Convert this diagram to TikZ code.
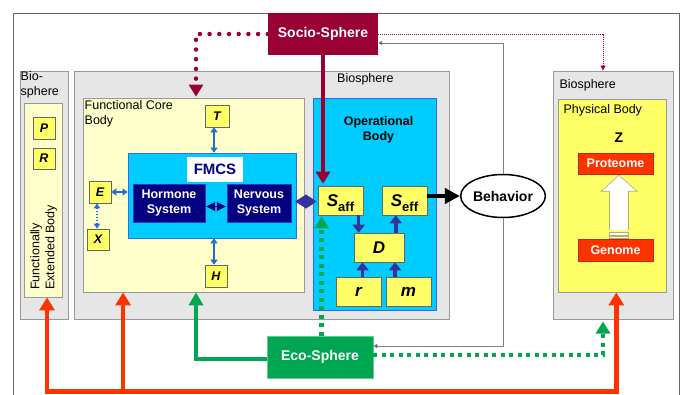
\documentclass[tikz,border=0pt]{standalone}
\usepackage{fontspec}
\setmainfont{Liberation Sans}
\usetikzlibrary{arrows.meta,calc,shapes.geometric}

\definecolor{bioGray}{HTML}{E6E6E6}
\definecolor{frameGray}{HTML}{999999}
\definecolor{outerGray}{HTML}{666666}
\definecolor{paleYel}{HTML}{FFFFCC}
\definecolor{boxYel}{HTML}{FFFF66}
\definecolor{stripeGray}{HTML}{B0B070}
\definecolor{opCyan}{HTML}{00CCFF}
\definecolor{opBlue}{HTML}{3366FF}
\definecolor{navyBox}{HTML}{000080}
\definecolor{linkBlue}{HTML}{1F6FD0}
\definecolor{opArrow}{HTML}{333399}
\definecolor{socioRed}{HTML}{990033}
\definecolor{ecoGreen}{HTML}{00A651}
\definecolor{genRed}{HTML}{FF3300}

\newcommand{\fsz}[2]{\fontsize{#1}{#2}\selectfont}

\tikzset{
  sphere/.style={draw=frameGray, fill=bioGray, line width=1pt, inner sep=0pt},
  paleBox/.style={draw=frameGray, fill=paleYel, line width=0.8pt, inner sep=0pt},
  cyanBox/.style={draw=opBlue, fill=opCyan, line width=0.8pt, inner sep=0pt},
  varBox/.style={draw=outerGray, fill=boxYel, line width=0.6pt, inner sep=0pt,
    font=\fsz{12.5}{15}\bfseries\itshape},
  bigVar/.style={varBox, font=\fsz{17}{17}\bfseries\itshape},
  sysBox/.style={draw=opBlue!60!navyBox, fill=navyBox, text=white, inner sep=0pt,
    align=center, font=\fsz{12.5}{15}\bfseries},
  geneBox/.style={draw=genRed!75!black, fill=genRed, text=white, inner sep=0pt,
    font=\fsz{12.5}{15}\bfseries},
  plainText/.style={inner sep=1pt, font=\fsz{12.5}{15}, align=left},
  socioLink/.style={socioRed, line width=4.5pt, -{Triangle[length=12pt,width=14pt]}},
  socioDots/.style={socioRed, line width=4.5pt, line cap=round,
    dash pattern=on 0pt off 9.7pt, -{Triangle[length=12pt,width=14pt]}},
  socioFine/.style={socioRed, line width=1pt, dash pattern=on 1pt off 1pt,
    -{Triangle[length=5pt,width=5pt]}},
  grayLink/.style={gray, line width=0.8pt, -{Triangle[length=4pt,width=4pt,fill=black]}},
  behLink/.style={black, line width=4.5pt, -{Triangle[length=15pt,width=15pt]}},
  diamondLink/.style={opArrow, line width=1pt,
    {Triangle[length=11pt,width=14pt]}-{Triangle[length=11pt,width=14pt]}},
  sysLink/.style={navyBox, line width=1pt,
    {Triangle[length=9pt,width=9pt]}-{Triangle[length=9pt,width=9pt]}},
  blueLink/.style={linkBlue, line width=2pt,
    {Triangle[length=5pt,width=7pt]}-{Triangle[length=5pt,width=7pt]}},
  blueDots/.style={linkBlue, line width=1.5pt, dash pattern=on 1.5pt off 1.5pt,
    {Triangle[length=5pt,width=6pt]}-{Triangle[length=5pt,width=6pt]}},
  opLink/.style={opArrow, line width=3.5pt, -{Triangle[length=8pt,width=12pt]}},
  ecoLink/.style={ecoGreen, line width=4.5pt, -{Triangle[length=13pt,width=14pt]}},
  ecoDots/.style={ecoGreen, line width=4.5pt, dash pattern=on 4pt off 4.5pt,
    -{Triangle[length=12pt,width=14pt]}},
  redLink/.style={genRed, line width=4.5pt},
  redTip/.tip={Triangle[length=13pt,width=15pt]},
}

\begin{document}
\begin{tikzpicture}[x=1pt,y=-1pt]
\useasboundingbox (0,0) rectangle (685,394);
\fill[white] (0,0) rectangle (685,394);

% outer frame, open at the bottom
\draw[outerGray, line width=0.8pt] (13,400) -- (13,13) -- (679,13) -- (679,400);

% left biosphere: functionally extended body
\node[sphere, minimum width=48pt, minimum height=248pt] (lbio) at (44,195) {};
\node[plainText, anchor=north west] at (lbio.north west) {Bio-\\sphere};
\node[paleBox, minimum width=38pt, minimum height=194pt] (feb) at (43,200) {};
\node[varBox, minimum width=22pt, minimum height=22pt] (pv) at (44,128) {P};
\node[varBox, minimum width=22pt, minimum height=21pt] (rv) at (44,158.5) {R};
\node[plainText, rotate=90, anchor=north west] at (29,291) {Functionally\\Extended Body};

% middle biosphere
\node[sphere, minimum width=375pt, minimum height=248pt] (mbio) at (261.5,195) {};
\node[plainText, anchor=north west] at (336,72.5) {Biosphere};

% functional core body
\node[paleBox, minimum width=221pt, minimum height=194pt] (fcb) at (193.5,195) {};
\node[plainText, anchor=north west] at (83.5,99.5) {Functional Core\\Body};
\node[varBox, minimum width=24pt, minimum height=22pt] (t) at (217,116) {T};
\node[cyanBox, minimum width=168pt, minimum height=85pt] (fmcs) at (212,195.5) {};
\node[fill=white, inner sep=0pt, minimum width=56pt, minimum height=25pt,
  text=navyBox, font=\fsz{15}{15}\bfseries] (fmcslab) at (215,169.5) {FMCS};
\node[sysBox, minimum width=72pt, minimum height=38pt] (horm) at (169,203) {Hormone\\System};
\node[sysBox, minimum width=64pt, minimum height=38pt] (nerv) at (259,203) {Nervous\\System};
\node[varBox, minimum width=22pt, minimum height=22pt] (e) at (100,192) {E};
\node[varBox, minimum width=22pt, minimum height=21pt] (x) at (98,239.5) {X};
\node[varBox, minimum width=22pt, minimum height=22pt] (h) at (216,276) {H};

% operational body
\node[cyanBox, minimum width=123pt, minimum height=212pt] (ob) at (374.5,204) {};
\node[inner sep=0pt, align=center, font=\fsz{12.5}{15}\bfseries] at (378.5,130) {Operational\\Body};
\node[varBox, minimum width=45pt, minimum height=29pt,
  label={[inner sep=0pt, yshift=-3pt]center:{\fsz{17}{17}\bfseries\itshape S\fsz{13}{13}\upshape\raisebox{-5pt}{aff}}}]
  (saff) at (340.5,200.5) {};
\node[varBox, minimum width=45pt, minimum height=29pt,
  label={[inner sep=0pt, yshift=-3pt]center:{\fsz{17}{17}\bfseries\itshape S\fsz{13}{13}\upshape\raisebox{-5pt}{eff}}}]
  (seff) at (404.5,200.5) {};
\node[bigVar, minimum width=50pt, minimum height=29pt] (d) at (379,247.5) {D};
\node[bigVar, minimum width=45pt, minimum height=29pt] (r) at (358.5,291.5) {r};
\node[bigVar, minimum width=45pt, minimum height=29pt] (m) at (408.5,291.5) {m};

% behaviour, socio- and eco-sphere
\node[draw, ellipse, line width=1.5pt, fill=white, inner sep=0pt,
  minimum width=73pt, minimum height=43pt, font=\fsz{14}{14}\bfseries] (beh) at (503,196) {Behavior};
\node[fill=socioRed, inner sep=0pt, minimum width=110pt, minimum height=42pt,
  text=white, font=\fsz{14}{14}\bfseries] (socio) at (323,34) {Socio-Sphere};
\node[fill=ecoGreen, draw=ecoGreen!60!white, line width=0.6pt, inner sep=0pt,
  minimum width=106pt, minimum height=42pt,
  text=white, font=\fsz{14}{14}\bfseries] (eco) at (320,357) {Eco-Sphere};

% right biosphere: physical body
\node[sphere, minimum width=120pt, minimum height=248pt] (rbio) at (613,195) {};
\node[plainText, anchor=north west] at (558.3,78.3) {Biosphere};
\node[draw=frameGray, fill=boxYel, line width=0.8pt, inner sep=0pt,
  minimum width=108pt, minimum height=193pt] (pbody) at (612,195.5) {};
\node[plainText, anchor=north west] at (562.3,103.3) {Physical Body};
\node[inner sep=0pt, font=\fsz{14}{14}\bfseries] (z) at (619,138) {Z};
\node[geneBox, minimum width=75pt, minimum height=21pt] (prot) at (615.5,163.5) {Proteome};
\node[geneBox, minimum width=75pt, minimum height=22pt] (gen) at (615.5,250) {Genome};

% hollow expression arrow from genome to proteome, striped at its tail
\coordinate (xTip) at ($(prot.south)+(3.5,1)$);
\coordinate (xBase) at ($(gen.north)+(3.5,-0.5)$);
\draw[stripeGray, fill=white, line width=0.6pt]
  ($(xBase)+(-9.5,-8.5)$) -- ($(xTip)+(-9.5,16)$) -- ($(xTip)+(-18,16)$) -- (xTip)
  -- ($(xTip)+(18,16)$) -- ($(xTip)+(9.5,16)$) -- ($(xBase)+(9.5,-8.5)$);
\draw[stripeGray, fill=white, line width=0.6pt]
  ($(xBase)+(-9.5,-6.5)$) rectangle ($(xBase)+(9.5,-3.5)$);
\draw[stripeGray, fill=white, line width=0.6pt]
  ($(xBase)+(-9.5,-2)$) rectangle ($(xBase)+(9.5,0)$);

% connectors inside the functional core
\coordinate (fmcsTop) at ($(fmcs.north)+(2,0)$);
\coordinate (fmcsBot) at ($(fmcs.south)+(2,0)$);
\draw[blueLink] (fmcsTop) -- (fmcsTop |- t.south);
\draw[blueLink] (fmcsBot) -- (fmcsBot |- h.north);
\draw[blueLink] (e.east) -- (e.east -| fmcs.west);
\coordinate (xTop) at ($(x.north)+(-1,0)$);
\draw[blueDots] (xTop) -- (xTop |- e.south);
\draw[sysLink] ($(horm.east)+(1,3.5)$) -- ($(nerv.west)+(-1,3.5)$);
\draw[diamondLink] ($(nerv.east)+(4,-1.5)$) -- ($(nerv.east -| saff.west)+(-1,-1.5)$);

% connectors inside the operational body
\coordinate (dIn) at ($(d.north west)+(5,0)$);
\coordinate (dOut) at ($(d.north east)+(-8.5,0)$);
\coordinate (rOut) at ($(r.north)+(4,0)$);
\coordinate (mOut) at ($(m.north)+(-13.5,0)$);
\draw[opLink] (dIn |- saff.south) -- (dIn);
\draw[opLink] (dOut) -- (dOut |- seff.south);
\draw[opLink] (rOut) -- (rOut |- d.south);
\draw[opLink] (mOut) -- (mOut |- d.south);
\draw[behLink] (seff.east |- beh.west) -- (beh.west);

% feedback from behaviour to the spheres
\draw[grayLink] (beh.north) |- ($(socio.east)+(0,9)$);
\draw[grayLink] (beh.south) |- ($(eco.east)+(0,-11)$);

% socio-sphere influences
\draw[socioLink, shorten >=2pt] (socio.south) -- (socio.south |- saff.north);
\draw[socioDots] (socio.west) -| ($(fcb.north)+(2.5,-1)$);
\draw[socioFine] (socio.east) -| ($(rbio.north)+(-10,0)$);

% eco-sphere influences
\coordinate (saffIn) at ($(saff.south west)+(4,0)$);
\draw[ecoLink] ($(eco.west)+(0,2)$) -| ($(fcb.south)+(2.5,0)$);
\draw[ecoDots, shorten >=1pt] (saffIn |- eco.north) -- (saffIn);
\draw[ecoDots] ($(eco.east)+(0,-2)$) -| ($(rbio.south)+(-10,2)$);

% genetic basis feeding all bodies
\coordinate (redBase) at (0,391.3);
\coordinate (febIn) at ($(feb.south)+(4,0)$);
\coordinate (fcbIn) at ($(fcb.south west)+(40.5,0)$);
\coordinate (pbIn) at ($(pbody.south)+(4.3,0)$);
\draw[redLink, {redTip}-{redTip}] (febIn) -- (febIn |- redBase) -- (pbIn |- redBase) -- (pbIn);
\draw[redLink, -{redTip}] (fcbIn |- redBase) -- (fcbIn);
\end{tikzpicture}
\end{document}
